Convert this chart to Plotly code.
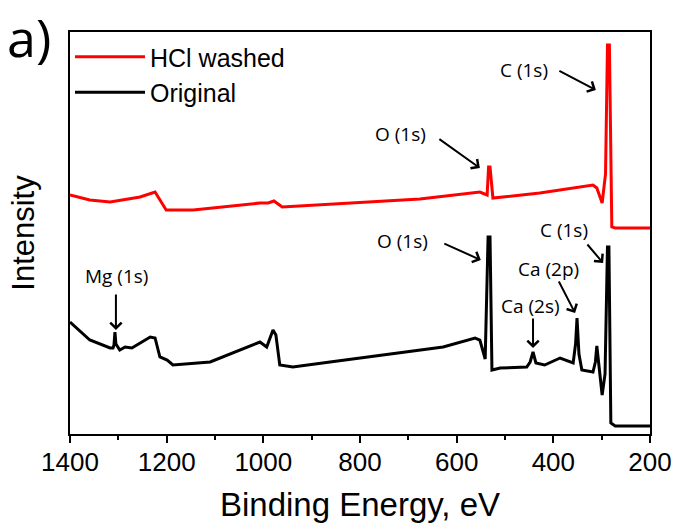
import plotly.graph_objects as go

# Binding energy (eV) and intensity (a.u.)
orig_energy = [1400, 1359, 1317, 1311, 1309, 1307, 1305, 1297, 1286, 1272, 1234, 1224,
               1214, 1199, 1187, 1110, 1007, 993, 980, 974, 966, 939, 862, 800, 697,
               628, 562, 552, 541, 538, 535, 531, 527, 510, 455, 448, 442, 436, 418,
               386, 359, 354, 351, 347, 341, 318, 313, 310, 306, 299, 293, 288, 285,
               281, 272, 200]
orig_intensity = [112, 94, 86, 86, 89, 102, 90, 84, 87, 86, 97, 96,
                  77, 74, 69, 72, 92, 87, 104, 99, 69, 67, 72, 76, 82,
                  87, 96, 94, 75, 130, 197, 197, 64, 66, 67, 72, 82, 71, 69,
                  76, 71, 90, 116, 80, 64, 62, 72, 88, 70, 39, 60, 187, 187,
                  11, 8, 8]

hcl_energy = [1400, 1359, 1317, 1255, 1224, 1214, 1201, 1145, 1007, 990, 978, 961,
              821, 676, 552, 537, 534, 531, 525, 428, 318, 310, 299, 292, 288,
              284, 279, 272, 200]
hcl_intensity = [239, 234, 232, 237, 242, 234, 224, 224, 231, 231, 233, 227,
                 231, 235, 242, 239, 267, 267, 236, 241, 249, 246, 231, 260, 389,
                 389, 207, 206, 206]

x_ticks = [1400, 1200, 1000, 800, 600, 400, 200]

# Peak labels: (text, label energy, label intensity, arrow head energy, arrow head intensity, tail dx px, tail dy px)
peak_labels = [
    ("C (1s)", 461, 364, 312, 344, -38, -20),
    ("O (1s)", 717, 300, 552, 266, -42, -30),
    ("O (1s)", 713, 193, 550, 174, -38, -17),
    ("C (1s)", 378, 204, 297, 171, -17, -20),
    ("Ca (2p)", 409, 165, 355, 121, -17, -33),
    ("Ca (2s)", 448, 128, 442, 86, 0, -31),
    ("Mg (1s)", 1303, 158, 1305, 104, 0, -37),
]

fig = go.Figure()
fig.add_trace(go.Scatter(x=hcl_energy, y=hcl_intensity, mode="lines",
                         name="HCl washed", line=dict(color="#ff0000", width=3)))
fig.add_trace(go.Scatter(x=orig_energy, y=orig_intensity, mode="lines",
                         name="Original", line=dict(color="#000000", width=3)))

annos = []
lbl_font = dict(family="Open Sans, sans-serif", size=19, color="#000")
for text, lx, ly, hx, hy, dx, dy in peak_labels:
    annos.append(dict(x=lx, y=ly, xref="x", yref="y", text=text, showarrow=False,
                      font=lbl_font, xanchor="center", yanchor="middle"))
    annos.append(dict(x=hx, y=hy, xref="x", yref="y", text="", showarrow=True,
                      ax=dx, ay=dy, arrowhead=4, arrowsize=1.1, arrowwidth=2,
                      arrowcolor="#000"))
annos.append(dict(x=-0.11, y=1.0796, xref="paper", yref="paper", text="a)",
                  showarrow=False, xanchor="left", yanchor="top", borderpad=0,
                  font=dict(family="Open Sans, sans-serif", size=52, color="#000")))

fig.update_layout(
    width=676, height=526,
    margin=dict(l=70, r=26, t=32, b=92, autoexpand=False),
    paper_bgcolor="white", plot_bgcolor="white",
    showlegend=True,
    legend=dict(x=0.0, y=0.995, xanchor="left", yanchor="top",
                bgcolor="rgba(0,0,0,0)", borderwidth=0, itemwidth=70,
                font=dict(family="Liberation Sans, Arial, sans-serif", size=25, color="#000")),
    annotations=annos,
    xaxis=dict(range=[1400, 200], tickvals=x_ticks, ticktext=[str(v) for v in x_ticks],
               ticks="outside", ticklen=7, tickwidth=1.5, tickcolor="#000",
               minor=dict(dtick=100, ticks="outside", ticklen=4, tickwidth=1.5, tickcolor="#000"),
               showline=True, linecolor="#000", linewidth=2, mirror=True,
               showgrid=False, zeroline=False, automargin=False, ticklabelstandoff=-3,
               tickfont=dict(family="Liberation Sans, Arial, sans-serif", size=26, color="#000"),
               title=dict(text="Binding Energy, eV", standoff=17,
                          font=dict(family="Liberation Sans, Arial, sans-serif", size=33, color="#000"))),
    yaxis=dict(range=[0, 402], showticklabels=False, ticks="",
               showline=True, linecolor="#000", linewidth=2, mirror=True,
               showgrid=False, zeroline=False, automargin=False,
               title=dict(text="Intensity", standoff=24,
                          font=dict(family="Liberation Sans, Arial, sans-serif", size=31, color="#000"))),
)

fig.write_html("out.html", post_script="document.body.style.margin='0';",
               config={"displayModeBar": False})
